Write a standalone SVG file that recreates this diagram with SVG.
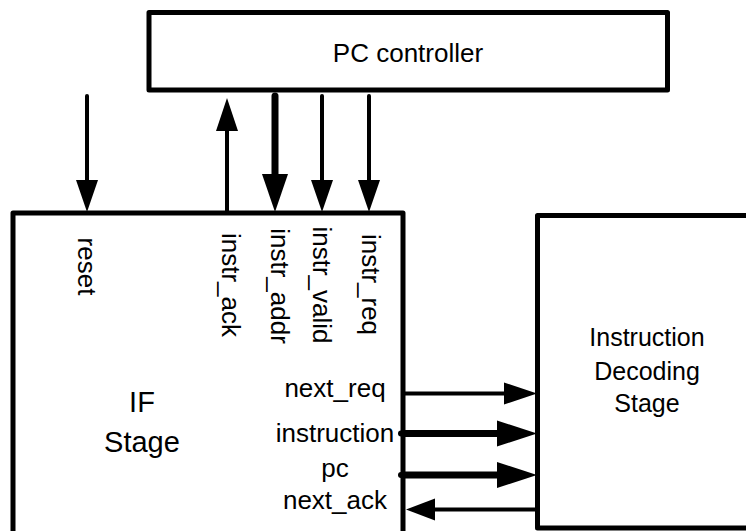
<svg xmlns="http://www.w3.org/2000/svg" width="746" height="531" viewBox="0 0 746 531">
<style>
.box{fill:#fff;stroke:#000;stroke-width:5;stroke-linejoin:round}
.thin{stroke:#000;stroke-width:4;fill:none;stroke-linecap:butt}
.thick{stroke:#000;stroke-width:7;fill:none;stroke-linecap:butt}
.cap{stroke-linecap:round}
.head{fill:#000;stroke:none}
text{font-family:"Liberation Sans",Arial,sans-serif;fill:#000}
.lbl{font-size:26px}
.mid{text-anchor:middle}
</style>
<rect width="746" height="531" fill="#fff"/>
<g id="pc-controller">
<rect class="box" x="149" y="12.5" width="518.5" height="77.5"/>
<text class="lbl mid" x="408" y="62">PC controller</text>
</g>
<g id="if-stage">
<rect class="box" x="13" y="213" width="390" height="340"/>
<text class="mid" x="142" y="412" font-size="29">IF</text>
<text class="mid" x="142" y="452" font-size="29">Stage</text>
<text class="lbl mid" transform="translate(78,266.5) rotate(90)">reset</text>
<text class="lbl mid" transform="translate(222,285) rotate(90)">instr_ack</text>
<text class="lbl mid" transform="translate(271,286) rotate(90)">instr_addr</text>
<text class="lbl mid" transform="translate(313,285) rotate(90)">instr_valid</text>
<text class="lbl mid" transform="translate(362,284.5) rotate(90)">instr_req</text>
<text class="lbl mid" x="335" y="397">next_req</text>
<text class="lbl mid" x="335" y="442">instruction</text>
<text class="lbl mid" x="335" y="477">pc</text>
<text class="lbl mid" x="335" y="509">next_ack</text>
</g>
<g id="id-stage">
<rect class="box" x="537.5" y="215.5" width="230" height="312.5"/>
<text class="mid" x="647" y="346" font-size="25">Instruction</text>
<text class="mid" x="647" y="380" font-size="25">Decoding</text>
<text class="mid" x="647" y="412" font-size="25">Stage</text>
</g>
<g id="connectors">
<line class="thin cap" x1="87" y1="96" x2="87" y2="182"/>
<polygon class="head" points="76,180 98,180 87,212"/>
<line class="thin" x1="227" y1="213" x2="227" y2="129"/>
<polygon class="head" points="216,131 238,131 227,98"/>
<line class="thick cap" x1="275" y1="96" x2="275" y2="176"/>
<polygon class="head" points="262,174 288,174 275,212"/>
<line class="thin cap" x1="322" y1="96" x2="322" y2="182"/>
<polygon class="head" points="311,180 333,180 322,212"/>
<line class="thin cap" x1="369" y1="96" x2="369" y2="182"/>
<polygon class="head" points="358,180 380,180 369,212"/>
<line class="thin" x1="403" y1="393.5" x2="506" y2="393.5"/>
<polygon class="head" points="504,382.5 504,404.5 537,393.5"/>
<circle cx="401" cy="433.5" r="3" fill="#000"/>
<line class="thick" x1="401" y1="433.5" x2="499" y2="433.5"/>
<polygon class="head" points="497,420.5 497,446.5 537,433.5"/>
<circle cx="401" cy="475" r="3" fill="#000"/>
<line class="thick" x1="401" y1="475" x2="499" y2="475"/>
<polygon class="head" points="497,462 497,488 537,475"/>
<line class="thin" x1="537" y1="509.5" x2="433" y2="509.5"/>
<polygon class="head" points="435,498.5 435,520.5 406,509.5"/>
</g>
</svg>
